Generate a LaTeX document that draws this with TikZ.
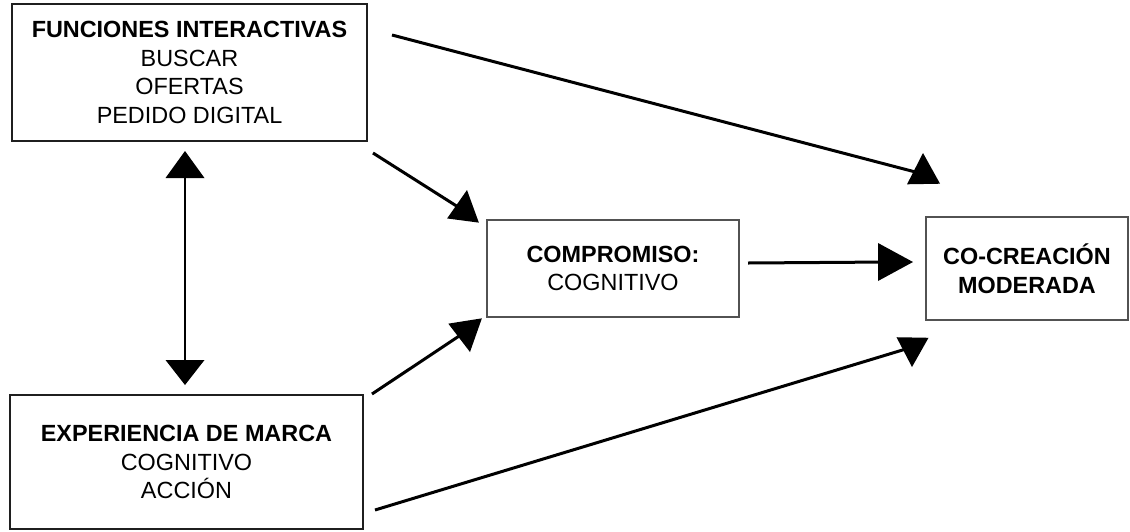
\documentclass[tikz,border=0pt]{standalone}
\usepackage{fontspec}
\setmainfont{Liberation Sans}
\usetikzlibrary{shapes.geometric}
\begin{document}
\begin{tikzpicture}[x=1pt,y=-1pt,
  box/.style={rectangle, align=center, inner sep=0pt,
    font=\fontsize{23.4}{28.6}\selectfont},
  heavybox/.style={box, draw=black!88, line width=2pt},
  lightbox/.style={box, draw=black!68, line width=1.5pt},
  conn/.style={line width=3pt, black},
  % minimum height = length along the axis, minimum width = base
  head/.style={isosceles triangle, isosceles triangle stretches,
    fill=black, draw=none, inner sep=0pt, outer sep=0pt, anchor=apex},
]
\useasboundingbox (0,0) rectangle (1130,531);

% boxes
\node[heavybox, minimum width=355pt, minimum height=137pt] (fun) at (189.5,72.5)
  {\textbf{FUNCIONES INTERACTIVAS}\\BUSCAR\\OFERTAS\\PEDIDO DIGITAL};
\node[heavybox, minimum width=353pt, minimum height=134pt] (exp) at (186.5,462)
  {\textbf{EXPERIENCIA DE MARCA}\\COGNITIVO\\ACCIÓN};
\node[lightbox, minimum width=252pt, minimum height=97pt] (com) at (613,268.5)
  {\textbf{COMPROMISO:}\\COGNITIVO};
\node[lightbox, minimum width=202pt, minimum height=103pt] (cre) at (1027,268.5)
  {\textbf{CO-CREACIÓN}\\\textbf{MODERADA}};

% arrow heads
\node[head, rotate=91,  minimum height=31pt,   minimum width=33pt] (h1) at (923,153) {};
\node[head, rotate=82.5,minimum height=30.8pt, minimum width=32pt] (h2) at (467,190) {};
\node[head, rotate=-81, minimum height=31.4pt, minimum width=34pt] (h3) at (470,352) {};
\node[head, rotate=-91, minimum height=29.5pt, minimum width=32pt] (h4) at (912,367) {};
\node[head, rotate=0,   minimum height=35pt,   minimum width=38pt] (h5) at (913,262) {};
\node[head, rotate=90,  minimum height=27pt,   minimum width=39pt] (vt) at (185,151) {};
\node[head, rotate=-90, minimum height=25pt,   minimum width=39pt] (vb) at (185,385) {};

% free starting points of the connectors
\coordinate (s1) at (392,35);
\coordinate (s2) at (373,153);
\coordinate (s3) at (372,394);
\coordinate (s4) at (375,510);
\coordinate (s5) at (748,263);

% connectors
\draw[conn] (s1) -- (h1.center);
\draw[conn] (s2) -- (h2.center);
\draw[conn] (s3) -- (h3.center);
\draw[conn] (s4) -- (h4.center);
\draw[conn] (s5) -- (h5.center);
\draw[line width=2pt] (vt.center) -- (vb.center);
\end{tikzpicture}
\end{document}
